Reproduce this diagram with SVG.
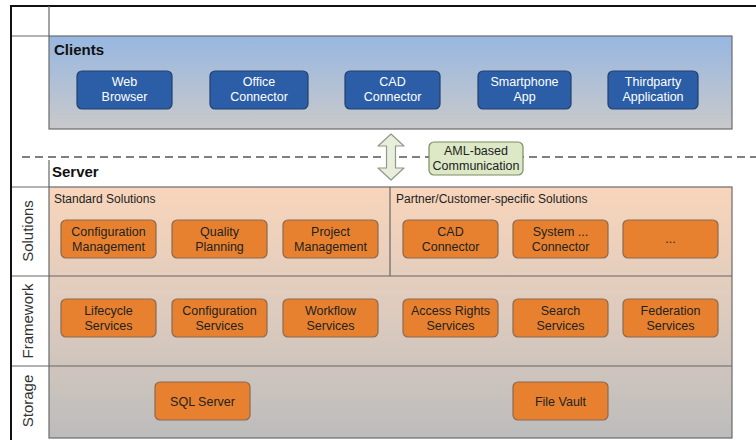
<svg xmlns="http://www.w3.org/2000/svg" width="756" height="440" viewBox="0 0 756 440">
<defs>
<linearGradient id="gClients" x1="0" y1="0" x2="0" y2="1">
<stop offset="0" stop-color="#97b7e1"/>
<stop offset="1" stop-color="#c9c9ca"/>
</linearGradient>
<linearGradient id="gServer" x1="0" y1="0" x2="0" y2="1">
<stop offset="0" stop-color="#f8d5bb"/>
<stop offset="0.5" stop-color="#ddcbbe"/>
<stop offset="1" stop-color="#bcbcbc"/>
</linearGradient>
<style>
.t{font-family:"Liberation Sans",Arial,sans-serif;}
.blue rect{fill:#2b5ea6;stroke:#22406c;stroke-width:1.2;}
.blue text{fill:#ffffff;font-size:12.5px;text-anchor:middle;font-family:"Liberation Sans",Arial,sans-serif;}
.org rect{fill:#e8812f;stroke:#8a6a52;stroke-width:1.2;}
.org text{fill:#222222;font-size:12.5px;text-anchor:middle;font-family:"Liberation Sans",Arial,sans-serif;}
.ln{stroke:#666;stroke-width:1.2;fill:none;}
.side{font-family:"Liberation Sans",Arial,sans-serif;font-size:15px;fill:#333;text-anchor:middle;}
.head{font-family:"Liberation Sans",Arial,sans-serif;font-size:15px;font-weight:bold;fill:#111;}
.sub{font-family:"Liberation Sans",Arial,sans-serif;font-size:12px;fill:#222;}
</style>
</defs>
<rect width="756" height="440" fill="#ffffff"/>
<!-- outer frame -->
<path d="M11,440 V6 H756" fill="none" stroke="#111" stroke-width="2"/>
<!-- grid lines top -->
<line class="ln" x1="49" y1="6" x2="49" y2="36" stroke="#999"/>
<line class="ln" x1="12" y1="36" x2="49" y2="36" stroke="#999"/>
<!-- clients area -->
<g id="clients">
<rect x="49" y="36" width="683" height="93" fill="url(#gClients)" stroke="#6b6b6b" stroke-width="1.2"/>
<text class="head" x="54" y="55">Clients</text>
</g>
<!-- dashed separator -->
<line x1="22" y1="157" x2="756" y2="157" stroke="#555" stroke-width="1.5" stroke-dasharray="8,5"/>
<!-- server area -->
<g id="server">
<text class="head" x="52" y="177">Server</text>
<line class="ln" x1="49" y1="160" x2="49" y2="187"/>
<rect x="49" y="187" width="683" height="251" fill="url(#gServer)" stroke="#6b6b6b" stroke-width="1.2"/>
<line class="ln" x1="12" y1="187" x2="49" y2="187"/>
<line class="ln" x1="12" y1="276" x2="732" y2="276"/>
<line class="ln" x1="12" y1="366" x2="732" y2="366"/>
<line class="ln" x1="390" y1="187" x2="390" y2="276"/>
<text class="sub" x="54" y="203">Standard Solutions</text>
<text class="sub" x="396" y="203">Partner/Customer-specific Solutions</text>
<text class="side" transform="translate(33,231) rotate(-90)">Solutions</text>
<text class="side" transform="translate(33,321) rotate(-90)">Framework</text>
<text class="side" transform="translate(33,401) rotate(-90)">Storage</text>
</g>
<!-- client nodes -->
<g id="web-browser" class="blue"><rect x="77" y="71" width="95" height="38" rx="5"/><text x="124.5" y="86">Web</text><text x="124.5" y="101">Browser</text></g>
<g id="office-connector" class="blue"><rect x="210" y="71" width="98" height="38" rx="5"/><text x="259" y="86">Office</text><text x="259" y="101">Connector</text></g>
<g id="cad-connector-client" class="blue"><rect x="345" y="71" width="95" height="38" rx="5"/><text x="392.5" y="86">CAD</text><text x="392.5" y="101">Connector</text></g>
<g id="smartphone-app" class="blue"><rect x="478" y="71" width="93" height="38" rx="5"/><text x="524.5" y="86">Smartphone</text><text x="524.5" y="101">App</text></g>
<g id="thirdparty-app" class="blue"><rect x="608" y="71" width="90" height="38" rx="5"/><text x="653" y="86">Thirdparty</text><text x="653" y="101">Application</text></g>
<!-- solutions -->
<g id="config-management" class="org"><rect x="61" y="220" width="95" height="38" rx="5"/><text x="108.5" y="235.5">Configuration</text><text x="108.5" y="250.5">Management</text></g>
<g id="quality-planning" class="org"><rect x="172" y="220" width="95" height="38" rx="5"/><text x="219.5" y="235.5">Quality</text><text x="219.5" y="250.5">Planning</text></g>
<g id="project-management" class="org"><rect x="283" y="220" width="95" height="38" rx="5"/><text x="330.5" y="235.5">Project</text><text x="330.5" y="250.5">Management</text></g>
<g id="cad-connector" class="org"><rect x="403" y="220" width="95" height="38" rx="5"/><text x="450.5" y="235.5">CAD</text><text x="450.5" y="250.5">Connector</text></g>
<g id="system-connector" class="org"><rect x="513" y="220" width="95" height="38" rx="5"/><text x="560.5" y="235.5">System ...</text><text x="560.5" y="250.5">Connector</text></g>
<g id="more-solutions" class="org"><rect x="623" y="220" width="95" height="38" rx="5"/><text x="670.5" y="243">...</text></g>
<!-- framework -->
<g id="lifecycle-services" class="org"><rect x="61" y="299" width="95" height="38" rx="5"/><text x="108.5" y="314.5">Lifecycle</text><text x="108.5" y="329.5">Services</text></g>
<g id="configuration-services" class="org"><rect x="172" y="299" width="95" height="38" rx="5"/><text x="219.5" y="314.5">Configuration</text><text x="219.5" y="329.5">Services</text></g>
<g id="workflow-services" class="org"><rect x="283" y="299" width="95" height="38" rx="5"/><text x="330.5" y="314.5">Workflow</text><text x="330.5" y="329.5">Services</text></g>
<g id="access-rights-services" class="org"><rect x="403" y="299" width="95" height="38" rx="5"/><text x="450.5" y="314.5">Access Rights</text><text x="450.5" y="329.5">Services</text></g>
<g id="search-services" class="org"><rect x="513" y="299" width="95" height="38" rx="5"/><text x="560.5" y="314.5">Search</text><text x="560.5" y="329.5">Services</text></g>
<g id="federation-services" class="org"><rect x="623" y="299" width="95" height="38" rx="5"/><text x="670.5" y="314.5">Federation</text><text x="670.5" y="329.5">Services</text></g>
<!-- storage -->
<g id="sql-server" class="org"><rect x="155" y="382" width="95" height="38" rx="5"/><text x="202.5" y="405.5">SQL Server</text></g>
<g id="file-vault" class="org"><rect x="513" y="382" width="95" height="38" rx="5"/><text x="560.5" y="405.5">File Vault</text></g>
<!-- connectors -->
<g id="connectors">
<path d="M391,134 L404,146 L395.5,146 L395.5,168 L404,168 L391,180 L378,168 L386.5,168 L386.5,146 L378,146 Z" fill="#e7efdc" stroke="#8f9a88" stroke-width="1.2" stroke-linejoin="round"/>
</g>
<g id="aml-label">
<rect x="429" y="142" width="94" height="33" rx="5" fill="#dce8c6" stroke="#7d8c62" stroke-width="1.2"/>
<text x="476" y="155" class="t" font-size="12.5" fill="#222" text-anchor="middle">AML-based</text>
<text x="476" y="170" class="t" font-size="12.5" fill="#222" text-anchor="middle">Communication</text>
</g>
</svg>
